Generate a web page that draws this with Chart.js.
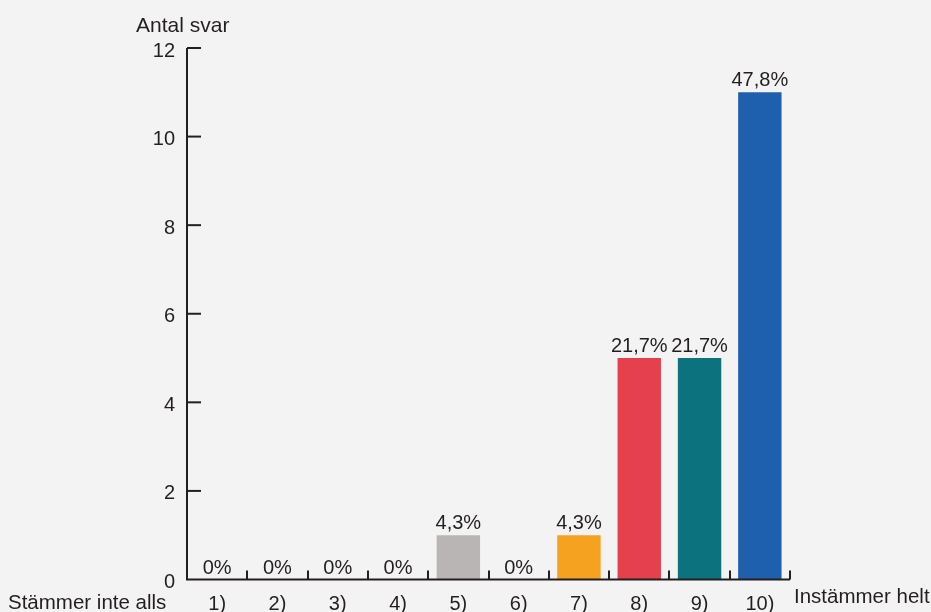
<!DOCTYPE html>
<html>
<head>
<meta charset="utf-8">
<script src="https://cdn.jsdelivr.net/npm/chart.js@4"></script>
<style>
  html, body { margin: 0; padding: 0; background: #f3f3f3; }
  #wrap { width: 931px; height: 612px; position: relative; }
</style>
</head>
<body>
<div id="wrap"><canvas id="c" width="931" height="612"></canvas></div>
<script>
const categories = ["1)", "2)", "3)", "4)", "5)", "6)", "7)", "8)", "9)", "10)"];
const counts = [0, 0, 0, 0, 1, 0, 1, 5, 5, 11];
const percentLabels = ["0%", "0%", "0%", "0%", "4,3%", "0%", "4,3%", "21,7%", "21,7%", "47,8%"];
const barColors = ["#bab5b5", "#bab5b5", "#bab5b5", "#bab5b5", "#bab5b5", "#bab5b5", "#f4a21f", "#e5404d", "#0b727e", "#1e60ad"];
const yTicks = [0, 2, 4, 6, 8, 10, 12];
const yTitle = "Antal svar";
const leftEndLabel = "Stämmer inte alls";
const rightEndLabel = "Instämmer helt";

const FONT = "'Liberation Sans', Arial, sans-serif";
const TEXT = "#231f20";
const AXIS = "#231f20";

const decorPlugin = {
  id: 'decor',
  afterDatasetsDraw(chart) {
    const ctx = chart.ctx;
    const xs = chart.scales.x, ys = chart.scales.y;
    const area = chart.chartArea;
    ctx.save();
    // axis lines
    ctx.strokeStyle = AXIS;
    ctx.lineWidth = 2;
    const y0 = ys.getPixelForValue(0);
    const xLeft = area.left;
    const step = xs.getPixelForValue(1) - xs.getPixelForValue(0);
    const xRight = xs.getPixelForValue(categories.length - 1) + step / 2;
    ctx.beginPath();
    ctx.moveTo(xLeft, ys.getPixelForValue(12));
    ctx.lineTo(xLeft, y0);
    ctx.lineTo(xRight, y0);
    ctx.stroke();
    // y ticks (inward)
    yTicks.forEach(v => {
      if (v === 0) return;
      const py = ys.getPixelForValue(v);
      ctx.beginPath();
      ctx.moveTo(xLeft, py);
      ctx.lineTo(xLeft + 14, py);
      ctx.stroke();
    });
    // x ticks at category boundaries (upward)
    for (let i = 0; i < categories.length; i++) {
      const px = Math.round(xs.getPixelForValue(i) + step / 2);
      ctx.beginPath();
      ctx.moveTo(px, y0);
      ctx.lineTo(px, y0 - 9);
      ctx.stroke();
    }
    // data labels
    ctx.fillStyle = TEXT;
    ctx.font = "20px " + FONT;
    ctx.textAlign = "center";
    ctx.textBaseline = "alphabetic";
    const meta = chart.getDatasetMeta(0);
    meta.data.forEach((bar, i) => {
      ctx.fillText(percentLabels[i], bar.x, bar.y - 6);
    });
    // titles
    ctx.font = "21px " + FONT;
    ctx.textAlign = "left";
    ctx.fillText(yTitle, 136, 31.5);
    ctx.font = "20.5px " + FONT;
    ctx.fillText(leftEndLabel, 8, y0 + 29);
    ctx.fillText(rightEndLabel, xRight + 4, y0 + 23.5);
    ctx.restore();
  }
};

new Chart(document.getElementById('c'), {
  type: 'bar',
  data: {
    labels: categories,
    datasets: [{
      data: counts,
      backgroundColor: barColors,
      borderWidth: 0,
      barPercentage: 0.72,
      categoryPercentage: 1.0
    }]
  },
  options: {
    responsive: false,
    animation: false,
    events: [],
    layout: { padding: { top: 48, right: 141, left: 0, bottom: 0 } },
    plugins: { legend: { display: false }, tooltip: { enabled: false } },
    scales: {
      x: {
        grid: { display: false, drawTicks: false },
        border: { display: false },
        ticks: { color: TEXT, font: { family: FONT, size: 20 }, padding: 13, maxRotation: 0, autoSkip: false },
        afterFit(s) { s.height = 612 - 579.5; }
      },
      y: {
        min: 0, max: 12,
        grid: { display: false, drawTicks: false },
        border: { display: false },
        afterBuildTicks(s) { s.ticks = yTicks.map(v => ({ value: v })); },
        ticks: { color: TEXT, font: { family: FONT, size: 20 }, padding: 12, labelOffset: 3 },
        afterFit(s) { s.width = 187; }
      }
    }
  },
  plugins: [decorPlugin]
});
</script>
</body>
</html>
